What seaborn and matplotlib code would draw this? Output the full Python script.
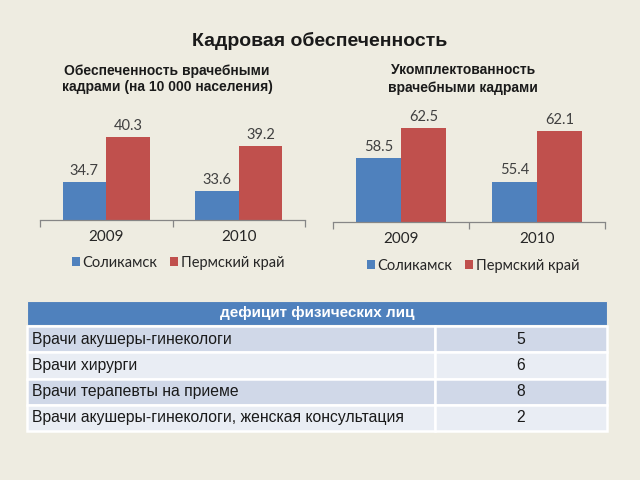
import matplotlib
matplotlib.use("Agg")
import matplotlib.pyplot as plt
import seaborn as sns
import pandas as pd
from matplotlib.ticker import FixedLocator

sns.set_theme(style="white")
plt.rcParams['font.family'] = ['Liberation Sans', 'DejaVu Sans']

# ---- data ----
years = ["2009", "2010"]
series = ["Соликамск", "Пермский край"]
supply_sol = [34.7, 33.6]
supply_perm = [40.3, 39.2]
staffing_sol = [58.5, 55.4]
staffing_perm = [62.5, 62.1]

main_title = "Кадровая обеспеченность"
left_title = "Обеспеченность врачебными\nкадрами (на 10 000 населения)"
right_title = "Укомплектованность\nврачебными кадрами"

table_header = "дефицит физических лиц"
table_labels = ["Врачи акушеры-гинекологи", "Врачи хирурги",
                "Врачи терапевты на приеме",
                "Врачи акушеры-гинекологи, женская консультация"]
table_values = [5, 6, 8, 2]

BLUE = "#4F81BD"
RED = "#C0504D"
BG = "#EEECE1"
W, H = 640, 480

fig = plt.figure(figsize=(6.4, 4.8), dpi=100, facecolor=BG)


def px_axes(left, right, top, bottom):
    return fig.add_axes([left / W, 1 - bottom / H, (right - left) / W, (bottom - top) / H])


def make_df(a, b):
    return pd.DataFrame({
        "year": years * 2,
        "series": [series[0]] * 2 + [series[1]] * 2,
        "value": list(a) + list(b),
    })


def bar_chart(ax, df, ylim, legend_anchor):
    sns.barplot(data=df, x="year", y="value", hue="series", hue_order=series,
                palette=[BLUE, RED], saturation=1, width=0.66, ax=ax, legend=False,
                linewidth=0)
    ax.set_facecolor("none")
    ax.set_ylim(*ylim)
    ax.set_xlim(-0.5, 1.5)
    for s in ["left", "right", "top"]:
        ax.spines[s].set_visible(False)
    ax.spines["bottom"].set_color("#868686")
    ax.spines["bottom"].set_linewidth(0.9)
    ax.set_yticks([])
    ax.set_xlabel("")
    ax.set_ylabel("")
    ax.tick_params(axis="x", which="major", length=0, pad=7, labelsize=11,
                   labelcolor="#262626")
    for lab in ax.get_xticklabels():
        lab.set_family("Lato")
    ax.xaxis.set_minor_locator(FixedLocator([-0.5, 0.5, 1.5]))
    ax.tick_params(axis="x", which="minor", length=5, width=0.9, color="#868686",
                   direction="out", bottom=True)
    for cont in ax.containers:
        ax.bar_label(cont, fmt="%.1f", padding=3, fontsize=10.5, color="#404040",
                     family="Lato")
    handles = [c.patches[0] for c in ax.containers]
    leg = ax.legend(handles, series, loc="center", bbox_to_anchor=legend_anchor,
                    bbox_transform=fig.transFigure, ncol=2, frameon=False,
                    handlelength=0.55, handleheight=0.55, handletextpad=0.15,
                    columnspacing=0.9, prop={"family": "Lato", "size": 10.5})
    for t in leg.get_texts():
        t.set_color("#262626")


axL = px_axes(40, 305, 115.5, 220)
bar_chart(axL, make_df(supply_sol, supply_perm), (30, 43), (178 / W, 1 - 263 / H))

axR = px_axes(333, 605, 109.5, 222)
bar_chart(axR, make_df(staffing_sol, staffing_perm), (50, 65), (473 / W, 1 - 266 / H))

fig.text(320 / W, 1 - 41 / H, main_title, ha="center", va="center",
         fontsize=14, fontweight="bold", color="#1a1a1a")
fig.text(167 / W, 1 - 79 / H, left_title, ha="center", va="center",
         fontsize=10, fontweight="bold", color="#1a1a1a", linespacing=1.1)
fig.text(463 / W, 1 - 79 / H, right_title, ha="center", va="center",
         fontsize=10, fontweight="bold", color="#1a1a1a", linespacing=1.35)

# ---- table ----
axT = fig.add_axes([0, 0, 1, 1])
axT.set_axis_off()
axT.set_facecolor("none")

t_left, t_right = 27, 607
hdr = axT.table(cellText=[[table_header]], cellLoc="center",
                bbox=[t_left / W, 1 - 325 / H, (t_right - t_left) / W, 24 / H])
hdr.auto_set_font_size(False)
c = hdr[0, 0]
c.set_facecolor(BLUE)
c.set_edgecolor(BG)
c.set_linewidth(0.8)
c.get_text().set_color("white")
c.get_text().set_fontweight("bold")
c.get_text().set_fontsize(11)

cells = [[lab, str(v)] for lab, v in zip(table_labels, table_values)]
col_w = [(435 - t_left) / (t_right - t_left), (t_right - 435) / (t_right - t_left)]
tbl = axT.table(cellText=cells, colWidths=col_w,
                bbox=[t_left / W, 1 - 431 / H, (t_right - t_left) / W, 105 / H])
tbl.auto_set_font_size(False)
for (r, cidx), cell in tbl.get_celld().items():
    cell.set_facecolor("#D0D8E8" if r % 2 == 0 else "#E9EDF4")
    cell.set_edgecolor("white")
    cell.set_linewidth(1.8)
    txt = cell.get_text()
    txt.set_fontsize(11.3)
    txt.set_color("#1a1a1a")
    if cidx == 0:
        txt.set_ha("left")
        cell.PAD = 0.012
    else:
        txt.set_ha("center")
        cell._loc = "center"

fig.savefig("out.png", dpi=100, facecolor=BG)
